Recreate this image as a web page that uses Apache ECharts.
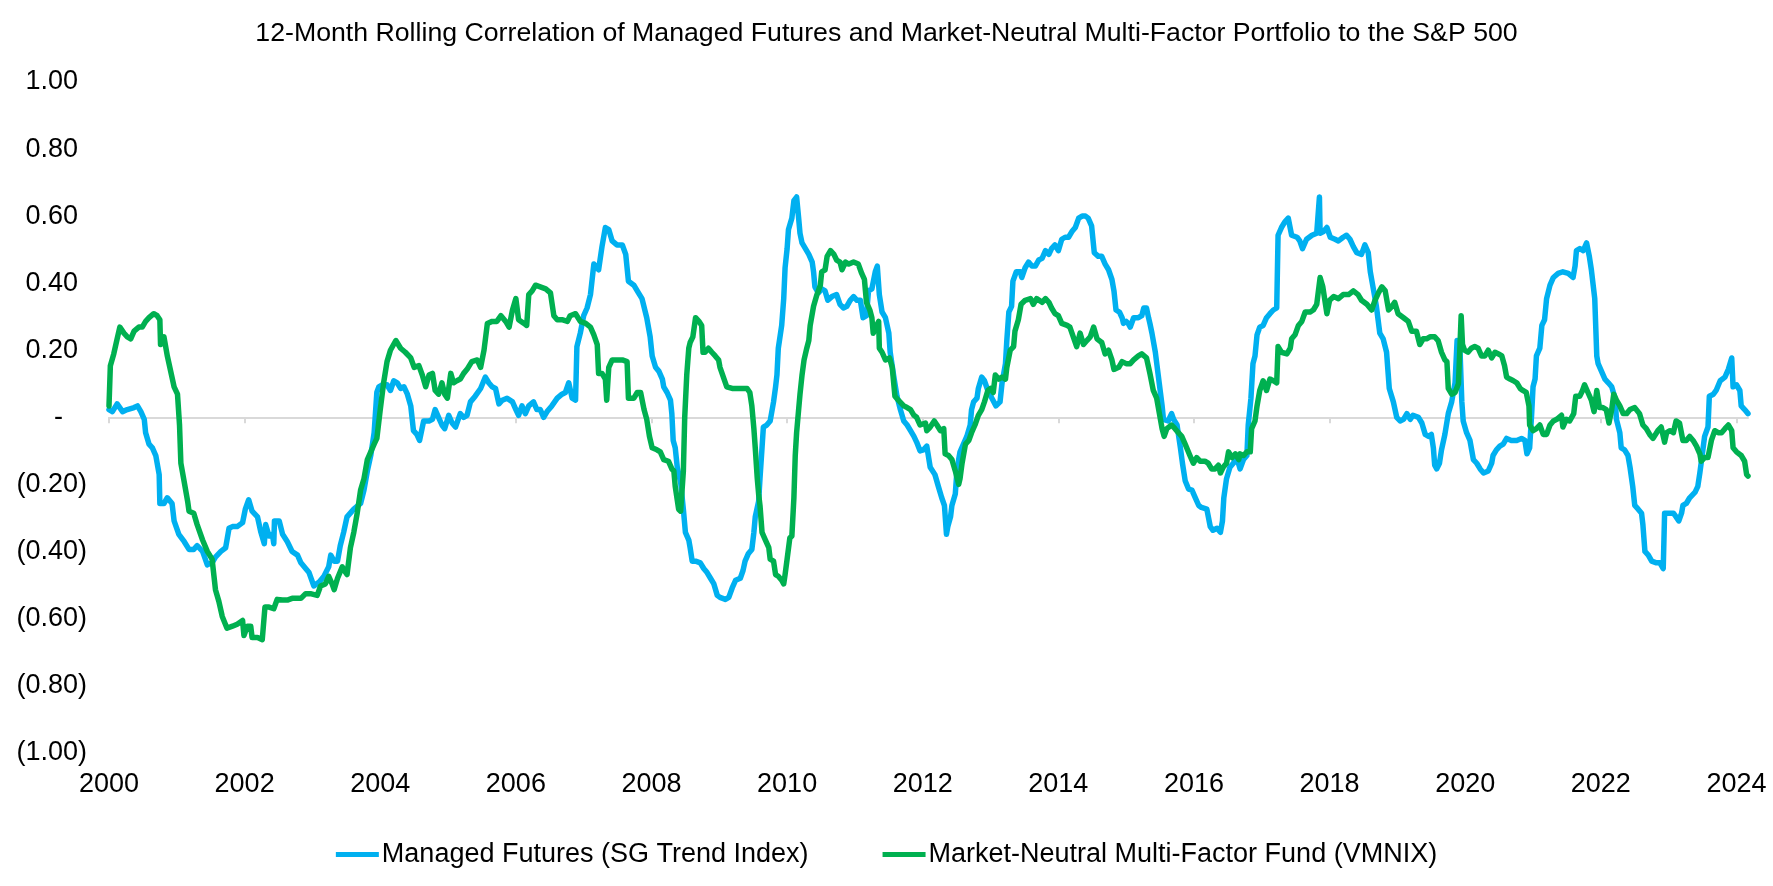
<!DOCTYPE html>
<html>
<head>
<meta charset="utf-8">
<script src="https://cdn.jsdelivr.net/npm/echarts@6/dist/echarts.min.js"></script>
<style>
html,body{margin:0;padding:0;background:#fff;}
#chart{width:1773px;height:886px;}
</style>
</head>
<body>
<div id="chart"></div>
<script>
const chartTitle = '12-Month Rolling Correlation of Managed Futures and Market-Neutral Multi-Factor Portfolio to the S&P 500';
const seriesNames = ['Managed Futures (SG Trend Index)', 'Market-Neutral Multi-Factor Fund (VMNIX)'];
const xTickYears = [2000, 2002, 2004, 2006, 2008, 2010, 2012, 2014, 2016, 2018, 2020, 2022, 2024];
const yTickValues = [-1, -0.8, -0.6, -0.4, -0.2, 0, 0.2, 0.4, 0.6, 0.8, 1];

// [decimal year, correlation]
const managedFutures = [
[2000.00,0.023],[2000.05,0.017],[2000.12,0.040],[2000.20,0.017],[2000.27,0.023],[2000.37,0.029],[2000.42,0.034],[2000.47,0.017],[2000.52,-0.006],[2000.54,-0.046],[2000.59,-0.080],[2000.64,-0.091],[2000.69,-0.114],[2000.74,-0.171],[2000.75,-0.257],[2000.81,-0.257],[2000.86,-0.240],[2000.93,-0.257],[2000.96,-0.309],
[2001.03,-0.349],[2001.11,-0.371],[2001.18,-0.394],[2001.25,-0.394],[2001.30,-0.383],[2001.38,-0.400],[2001.45,-0.440],[2001.52,-0.434],[2001.57,-0.417],[2001.65,-0.400],[2001.72,-0.389],[2001.77,-0.331],[2001.82,-0.326],[2001.89,-0.326],[2001.97,-0.314],
[2002.01,-0.274],[2002.06,-0.246],[2002.11,-0.280],[2002.19,-0.297],[2002.24,-0.343],[2002.29,-0.377],[2002.31,-0.320],[2002.36,-0.354],[2002.41,-0.349],[2002.43,-0.377],[2002.44,-0.309],[2002.51,-0.309],[2002.56,-0.349],[2002.63,-0.371],[2002.70,-0.400],[2002.78,-0.411],[2002.83,-0.434],[2002.90,-0.451],[2002.95,-0.463],
[2003.02,-0.503],[2003.10,-0.491],[2003.17,-0.474],[2003.24,-0.446],[2003.27,-0.411],[2003.32,-0.429],[2003.37,-0.429],[2003.41,-0.383],[2003.46,-0.343],[2003.51,-0.297],[2003.61,-0.274],[2003.71,-0.257],[2003.76,-0.217],[2003.81,-0.160],[2003.86,-0.114],[2003.91,-0.046],[2003.95,0.075],[2003.98,0.091],
[2004.03,0.097],[2004.10,0.097],[2004.15,0.080],[2004.20,0.109],[2004.25,0.103],[2004.30,0.086],[2004.35,0.091],[2004.40,0.069],[2004.45,0.034],[2004.49,-0.040],[2004.54,-0.051],[2004.58,-0.069],[2004.64,-0.011],[2004.72,-0.011],[2004.77,-0.006],[2004.81,0.023],[2004.86,0.000],[2004.91,-0.023],[2004.95,-0.034],
[2005.01,0.006],[2005.06,-0.017],[2005.11,-0.029],[2005.18,0.011],[2005.23,0.000],[2005.28,0.006],[2005.33,0.046],[2005.40,0.063],[2005.48,0.086],[2005.55,0.120],[2005.60,0.103],[2005.65,0.091],[2005.70,0.086],[2005.75,0.040],[2005.80,0.051],[2005.87,0.057],[2005.95,0.046],
[2006.00,0.023],[2006.04,0.006],[2006.09,0.034],[2006.14,0.011],[2006.19,0.034],[2006.26,0.046],[2006.31,0.023],[2006.36,0.023],[2006.41,0.000],[2006.46,0.017],[2006.53,0.034],[2006.61,0.057],[2006.68,0.069],[2006.73,0.074],[2006.78,0.103],[2006.83,0.057],[2006.88,0.051],[2006.90,0.211],[2006.95,0.251],
[2007.00,0.303],[2007.05,0.326],[2007.10,0.366],[2007.15,0.457],[2007.22,0.440],[2007.27,0.509],[2007.32,0.566],[2007.37,0.560],[2007.42,0.526],[2007.49,0.514],[2007.57,0.514],[2007.62,0.486],[2007.66,0.406],[2007.74,0.394],[2007.79,0.377],[2007.86,0.354],[2007.93,0.297],[2007.98,0.240],
[2008.01,0.183],[2008.06,0.149],[2008.11,0.137],[2008.16,0.114],[2008.18,0.091],[2008.23,0.074],[2008.28,0.051],[2008.30,0.011],[2008.32,-0.069],[2008.35,-0.091],[2008.38,-0.149],[2008.43,-0.194],[2008.47,-0.274],[2008.50,-0.343],[2008.55,-0.366],[2008.57,-0.389],[2008.60,-0.429],[2008.65,-0.429],[2008.72,-0.434],[2008.77,-0.451],[2008.82,-0.463],[2008.87,-0.480],[2008.92,-0.497],[2008.97,-0.531],
[2009.01,-0.537],[2009.09,-0.543],[2009.14,-0.537],[2009.19,-0.509],[2009.24,-0.486],[2009.31,-0.480],[2009.35,-0.457],[2009.38,-0.429],[2009.43,-0.406],[2009.48,-0.394],[2009.51,-0.343],[2009.53,-0.297],[2009.58,-0.251],[2009.60,-0.183],[2009.63,-0.091],[2009.65,-0.029],[2009.70,-0.023],[2009.75,-0.011],[2009.80,0.046],[2009.83,0.091],[2009.85,0.126],[2009.87,0.206],[2009.92,0.274],[2009.95,0.354],[2009.97,0.446],
[2010.00,0.503],[2010.02,0.560],[2010.07,0.594],[2010.10,0.646],[2010.14,0.657],[2010.17,0.594],[2010.19,0.549],[2010.22,0.520],[2010.27,0.503],[2010.32,0.486],[2010.37,0.463],[2010.39,0.434],[2010.41,0.389],[2010.46,0.371],[2010.51,0.383],[2010.56,0.377],[2010.60,0.349],[2010.66,0.360],[2010.73,0.366],[2010.78,0.337],[2010.83,0.326],[2010.88,0.331],[2010.93,0.349],[2010.98,0.360],
[2011.03,0.349],[2011.08,0.349],[2011.12,0.297],[2011.17,0.303],[2011.20,0.377],[2011.25,0.383],[2011.30,0.434],[2011.33,0.451],[2011.36,0.366],[2011.40,0.314],[2011.45,0.297],[2011.50,0.251],[2011.52,0.194],[2011.57,0.126],[2011.62,0.063],[2011.67,0.023],[2011.72,-0.011],[2011.77,-0.023],[2011.82,-0.040],[2011.87,-0.057],[2011.91,-0.074],[2011.96,-0.100],
[2012.01,-0.097],[2012.06,-0.086],[2012.11,-0.149],[2012.18,-0.171],[2012.23,-0.206],[2012.28,-0.240],[2012.32,-0.263],[2012.35,-0.349],[2012.37,-0.326],[2012.41,-0.297],[2012.43,-0.263],[2012.48,-0.229],[2012.50,-0.171],[2012.53,-0.126],[2012.55,-0.103],[2012.60,-0.080],[2012.65,-0.057],[2012.70,-0.023],[2012.72,0.023],[2012.75,0.046],[2012.80,0.057],[2012.82,0.086],[2012.87,0.120],[2012.91,0.109],[2012.96,0.080],
[2013.02,0.057],[2013.08,0.034],[2013.14,0.046],[2013.17,0.103],[2013.22,0.160],[2013.24,0.229],[2013.27,0.314],[2013.31,0.331],[2013.33,0.406],[2013.38,0.434],[2013.44,0.434],[2013.46,0.417],[2013.51,0.446],[2013.56,0.463],[2013.61,0.451],[2013.66,0.451],[2013.71,0.469],[2013.76,0.474],[2013.81,0.497],[2013.86,0.486],[2013.90,0.503],[2013.95,0.514],
[2014.00,0.497],[2014.05,0.531],[2014.10,0.537],[2014.15,0.537],[2014.20,0.554],[2014.25,0.566],[2014.30,0.594],[2014.35,0.600],[2014.40,0.600],[2014.44,0.594],[2014.49,0.571],[2014.53,0.491],[2014.59,0.480],[2014.64,0.480],[2014.69,0.457],[2014.74,0.440],[2014.79,0.411],[2014.82,0.377],[2014.85,0.320],[2014.90,0.314],[2014.94,0.297],[2014.96,0.280],
[2015.00,0.286],[2015.03,0.280],[2015.06,0.269],[2015.11,0.297],[2015.18,0.297],[2015.23,0.303],[2015.26,0.326],[2015.30,0.326],[2015.33,0.297],[2015.35,0.280],[2015.38,0.251],[2015.43,0.194],[2015.48,0.114],[2015.53,0.034],[2015.55,-0.006],[2015.62,-0.011],[2015.67,0.011],[2015.70,-0.006],[2015.75,-0.023],[2015.80,-0.091],[2015.83,-0.137],[2015.87,-0.189],[2015.92,-0.214],[2015.97,-0.217],
[2016.02,-0.240],[2016.07,-0.263],[2016.11,-0.269],[2016.19,-0.274],[2016.24,-0.326],[2016.28,-0.337],[2016.34,-0.331],[2016.39,-0.343],[2016.42,-0.309],[2016.44,-0.240],[2016.48,-0.183],[2016.53,-0.149],[2016.58,-0.137],[2016.63,-0.120],[2016.68,-0.154],[2016.73,-0.126],[2016.78,-0.114],[2016.80,-0.023],[2016.84,0.057],[2016.87,0.160],[2016.90,0.183],[2016.93,0.246],[2016.97,0.269],
[2017.02,0.274],[2017.07,0.297],[2017.12,0.309],[2017.17,0.320],[2017.22,0.326],[2017.24,0.543],[2017.29,0.566],[2017.34,0.583],[2017.39,0.594],[2017.44,0.543],[2017.52,0.537],[2017.56,0.526],[2017.60,0.503],[2017.66,0.531],[2017.74,0.543],[2017.81,0.549],[2017.85,0.657],[2017.86,0.549],[2017.91,0.554],[2017.96,0.566],
[2018.01,0.537],[2018.08,0.531],[2018.13,0.526],[2018.20,0.537],[2018.25,0.543],[2018.30,0.531],[2018.35,0.509],[2018.40,0.491],[2018.47,0.486],[2018.52,0.514],[2018.57,0.491],[2018.60,0.434],[2018.65,0.377],[2018.69,0.331],[2018.74,0.251],[2018.79,0.234],[2018.84,0.194],[2018.88,0.086],[2018.94,0.046],[2018.99,0.000],
[2019.04,-0.011],[2019.09,-0.006],[2019.14,0.011],[2019.19,-0.006],[2019.23,0.006],[2019.31,0.000],[2019.36,-0.017],[2019.41,-0.051],[2019.46,-0.057],[2019.50,-0.051],[2019.53,-0.091],[2019.55,-0.143],[2019.58,-0.154],[2019.62,-0.137],[2019.65,-0.097],[2019.70,-0.051],[2019.75,0.011],[2019.80,0.046],[2019.85,0.103],[2019.88,0.229],[2019.92,0.217],[2019.95,0.046],[2019.97,-0.011],
[2020.02,-0.046],[2020.07,-0.069],[2020.12,-0.126],[2020.17,-0.137],[2020.22,-0.154],[2020.27,-0.166],[2020.34,-0.160],[2020.39,-0.137],[2020.41,-0.114],[2020.46,-0.097],[2020.51,-0.086],[2020.56,-0.080],[2020.61,-0.063],[2020.68,-0.069],[2020.76,-0.069],[2020.83,-0.063],[2020.88,-0.069],[2020.91,-0.109],[2020.95,-0.091],[2020.98,0.011],
[2021.00,0.091],[2021.03,0.114],[2021.05,0.183],[2021.10,0.206],[2021.13,0.274],[2021.17,0.291],[2021.20,0.354],[2021.25,0.394],[2021.30,0.417],[2021.37,0.429],[2021.44,0.434],[2021.52,0.429],[2021.59,0.417],[2021.62,0.451],[2021.64,0.497],[2021.69,0.503],[2021.74,0.497],[2021.79,0.520],[2021.83,0.480],[2021.86,0.440],[2021.91,0.354],[2021.94,0.183],[2021.96,0.160],
[2022.01,0.137],[2022.06,0.114],[2022.11,0.103],[2022.16,0.091],[2022.21,0.057],[2022.23,-0.006],[2022.28,-0.046],[2022.30,-0.091],[2022.35,-0.097],[2022.40,-0.114],[2022.43,-0.149],[2022.47,-0.206],[2022.50,-0.263],[2022.55,-0.274],[2022.60,-0.286],[2022.62,-0.320],[2022.65,-0.400],[2022.70,-0.411],[2022.75,-0.429],[2022.82,-0.434],[2022.87,-0.434],[2022.92,-0.451],[2022.94,-0.286],[2022.99,-0.286],
[2023.07,-0.286],[2023.11,-0.297],[2023.15,-0.309],[2023.19,-0.286],[2023.21,-0.263],[2023.26,-0.257],[2023.31,-0.240],[2023.39,-0.223],[2023.43,-0.206],[2023.46,-0.166],[2023.49,-0.120],[2023.53,-0.057],[2023.58,-0.029],[2023.60,0.063],[2023.66,0.069],[2023.70,0.080],[2023.76,0.109],[2023.83,0.120],[2023.88,0.143],[2023.93,0.177],[2023.95,0.091],
[2024.00,0.097],[2024.05,0.080],[2024.07,0.034],[2024.12,0.023],[2024.17,0.011]
];

const marketNeutral = [
[2000.00,0.034],[2000.02,0.154],[2000.07,0.189],[2000.12,0.234],[2000.16,0.269],[2000.22,0.251],[2000.27,0.240],[2000.32,0.234],[2000.37,0.257],[2000.44,0.269],[2000.49,0.269],[2000.54,0.286],[2000.59,0.297],[2000.66,0.309],[2000.71,0.303],[2000.75,0.291],[2000.76,0.217],[2000.81,0.240],[2000.86,0.183],[2000.91,0.137],[2000.96,0.091],
[2001.01,0.069],[2001.04,-0.023],[2001.06,-0.137],[2001.11,-0.194],[2001.16,-0.251],[2001.18,-0.280],[2001.25,-0.286],[2001.30,-0.320],[2001.38,-0.366],[2001.45,-0.400],[2001.52,-0.423],[2001.57,-0.514],[2001.62,-0.549],[2001.67,-0.594],[2001.74,-0.629],[2001.82,-0.623],[2001.89,-0.617],[2001.97,-0.606],[2001.99,-0.651],
[2002.04,-0.623],[2002.09,-0.623],[2002.11,-0.657],[2002.19,-0.657],[2002.26,-0.663],[2002.30,-0.566],[2002.36,-0.566],[2002.43,-0.571],[2002.48,-0.543],[2002.56,-0.545],[2002.63,-0.545],[2002.70,-0.540],[2002.83,-0.540],[2002.90,-0.526],[2002.97,-0.526],
[2003.07,-0.531],[2003.12,-0.503],[2003.19,-0.497],[2003.24,-0.474],[2003.29,-0.497],[2003.32,-0.514],[2003.37,-0.480],[2003.44,-0.446],[2003.49,-0.463],[2003.51,-0.469],[2003.56,-0.389],[2003.61,-0.343],[2003.66,-0.286],[2003.71,-0.217],[2003.76,-0.183],[2003.81,-0.126],[2003.86,-0.103],[2003.91,-0.080],[2003.95,-0.063],
[2004.00,0.023],[2004.05,0.103],[2004.10,0.166],[2004.15,0.200],[2004.23,0.229],[2004.30,0.206],[2004.37,0.194],[2004.45,0.177],[2004.50,0.149],[2004.57,0.154],[2004.62,0.126],[2004.67,0.091],[2004.72,0.126],[2004.77,0.131],[2004.81,0.080],[2004.86,0.069],[2004.91,0.103],[2004.95,0.069],[2004.99,0.057],
[2005.04,0.131],[2005.08,0.103],[2005.13,0.109],[2005.18,0.114],[2005.23,0.131],[2005.28,0.143],[2005.35,0.166],[2005.43,0.171],[2005.48,0.149],[2005.53,0.200],[2005.58,0.280],[2005.65,0.286],[2005.72,0.286],[2005.78,0.303],[2005.85,0.286],[2005.90,0.269],[2005.95,0.320],
[2006.00,0.354],[2006.04,0.291],[2006.12,0.280],[2006.16,0.274],[2006.19,0.366],[2006.24,0.377],[2006.29,0.394],[2006.36,0.389],[2006.44,0.383],[2006.51,0.371],[2006.56,0.303],[2006.61,0.291],[2006.68,0.291],[2006.76,0.286],[2006.80,0.303],[2006.88,0.309],[2006.95,0.286],
[2007.03,0.280],[2007.10,0.269],[2007.15,0.246],[2007.20,0.217],[2007.22,0.131],[2007.27,0.131],[2007.32,0.114],[2007.34,0.051],[2007.37,0.149],[2007.42,0.171],[2007.49,0.171],[2007.57,0.171],[2007.64,0.166],[2007.66,0.057],[2007.74,0.057],[2007.79,0.074],[2007.84,0.074],[2007.89,0.023],[2007.93,-0.006],[2007.97,-0.057],
[2008.01,-0.091],[2008.08,-0.097],[2008.13,-0.103],[2008.18,-0.126],[2008.25,-0.131],[2008.30,-0.154],[2008.33,-0.160],[2008.35,-0.206],[2008.40,-0.274],[2008.43,-0.280],[2008.47,-0.160],[2008.49,0.000],[2008.52,0.126],[2008.55,0.206],[2008.57,0.223],[2008.61,0.240],[2008.65,0.297],[2008.70,0.286],[2008.74,0.274],[2008.76,0.194],[2008.79,0.194],[2008.84,0.206],[2008.89,0.194],[2008.94,0.183],[2008.99,0.171],
[2009.01,0.149],[2009.06,0.120],[2009.11,0.091],[2009.19,0.086],[2009.26,0.086],[2009.33,0.086],[2009.41,0.086],[2009.45,0.074],[2009.48,0.034],[2009.51,-0.034],[2009.53,-0.091],[2009.56,-0.183],[2009.58,-0.229],[2009.60,-0.263],[2009.63,-0.343],[2009.68,-0.366],[2009.73,-0.389],[2009.75,-0.423],[2009.80,-0.429],[2009.83,-0.469],[2009.87,-0.474],[2009.92,-0.486],[2009.95,-0.497],[2009.97,-0.469],
[2010.00,-0.423],[2010.04,-0.360],[2010.07,-0.354],[2010.10,-0.240],[2010.12,-0.114],[2010.14,-0.046],[2010.17,0.023],[2010.19,0.069],[2010.22,0.126],[2010.25,0.171],[2010.29,0.206],[2010.32,0.229],[2010.34,0.274],[2010.39,0.331],[2010.44,0.366],[2010.49,0.394],[2010.51,0.434],[2010.56,0.440],[2010.59,0.480],[2010.64,0.497],[2010.69,0.486],[2010.73,0.469],[2010.78,0.463],[2010.81,0.440],[2010.86,0.463],[2010.91,0.457],[2010.98,0.463],
[2011.05,0.457],[2011.10,0.429],[2011.14,0.411],[2011.17,0.343],[2011.22,0.320],[2011.25,0.297],[2011.27,0.251],[2011.32,0.274],[2011.35,0.286],[2011.36,0.206],[2011.40,0.194],[2011.45,0.171],[2011.47,0.166],[2011.51,0.177],[2011.55,0.149],[2011.57,0.149],[2011.59,0.063],[2011.64,0.051],[2011.72,0.034],[2011.77,0.029],[2011.82,0.023],[2011.87,0.006],[2011.91,0.000],[2011.96,-0.023],
[2012.04,-0.017],[2012.06,-0.040],[2012.11,-0.029],[2012.17,-0.011],[2012.21,-0.023],[2012.26,-0.040],[2012.31,-0.034],[2012.33,-0.109],[2012.38,-0.114],[2012.43,-0.126],[2012.48,-0.160],[2012.53,-0.200],[2012.55,-0.183],[2012.58,-0.137],[2012.63,-0.080],[2012.68,-0.069],[2012.72,-0.046],[2012.77,-0.023],[2012.82,0.006],[2012.87,0.023],[2012.91,0.046],[2012.96,0.080],
[2013.00,0.086],[2013.04,0.074],[2013.07,0.126],[2013.12,0.114],[2013.17,0.120],[2013.22,0.114],[2013.24,0.149],[2013.29,0.200],[2013.34,0.211],[2013.36,0.257],[2013.41,0.291],[2013.45,0.337],[2013.51,0.349],[2013.59,0.354],[2013.63,0.337],[2013.68,0.354],[2013.76,0.343],[2013.81,0.354],[2013.86,0.343],[2013.90,0.326],[2013.95,0.309],
[2014.00,0.303],[2014.05,0.280],[2014.13,0.274],[2014.17,0.269],[2014.22,0.240],[2014.27,0.211],[2014.32,0.251],[2014.37,0.217],[2014.42,0.229],[2014.47,0.240],[2014.52,0.269],[2014.57,0.234],[2014.64,0.223],[2014.69,0.189],[2014.74,0.200],[2014.79,0.171],[2014.82,0.143],[2014.89,0.149],[2014.94,0.166],
[2015.00,0.160],[2015.06,0.160],[2015.11,0.171],[2015.18,0.183],[2015.23,0.189],[2015.30,0.177],[2015.35,0.131],[2015.40,0.080],[2015.45,0.057],[2015.49,0.011],[2015.53,-0.034],[2015.56,-0.057],[2015.60,-0.034],[2015.67,-0.023],[2015.72,-0.034],[2015.77,-0.046],[2015.82,-0.057],[2015.87,-0.080],[2015.94,-0.114],[2015.99,-0.137],
[2016.04,-0.120],[2016.09,-0.131],[2016.16,-0.131],[2016.21,-0.137],[2016.26,-0.154],[2016.31,-0.154],[2016.36,-0.143],[2016.39,-0.166],[2016.43,-0.149],[2016.48,-0.137],[2016.51,-0.103],[2016.56,-0.120],[2016.61,-0.109],[2016.66,-0.126],[2016.68,-0.109],[2016.73,-0.114],[2016.78,-0.103],[2016.83,-0.103],[2016.85,-0.034],[2016.90,-0.011],[2016.93,0.034],[2016.97,0.080],
[2017.02,0.109],[2017.07,0.080],[2017.12,0.114],[2017.17,0.109],[2017.22,0.103],[2017.24,0.211],[2017.29,0.194],[2017.37,0.189],[2017.42,0.206],[2017.44,0.234],[2017.49,0.246],[2017.54,0.274],[2017.59,0.286],[2017.64,0.314],[2017.71,0.314],[2017.76,0.320],[2017.81,0.337],[2017.86,0.417],[2017.90,0.389],[2017.96,0.309],
[2018.00,0.349],[2018.06,0.360],[2018.13,0.354],[2018.20,0.366],[2018.28,0.366],[2018.35,0.377],[2018.42,0.366],[2018.47,0.349],[2018.55,0.337],[2018.62,0.320],[2018.67,0.349],[2018.72,0.371],[2018.77,0.389],[2018.82,0.377],[2018.87,0.320],[2018.92,0.331],[2018.96,0.343],
[2019.01,0.309],[2019.09,0.297],[2019.16,0.286],[2019.21,0.257],[2019.28,0.257],[2019.33,0.217],[2019.38,0.234],[2019.43,0.234],[2019.48,0.240],[2019.55,0.240],[2019.60,0.229],[2019.65,0.194],[2019.70,0.171],[2019.73,0.166],[2019.75,0.086],[2019.80,0.069],[2019.85,0.074],[2019.90,0.100],[2019.94,0.303],[2019.96,0.217],[2019.99,0.200],
[2020.04,0.194],[2020.09,0.206],[2020.14,0.211],[2020.19,0.206],[2020.24,0.183],[2020.29,0.183],[2020.34,0.200],[2020.39,0.177],[2020.44,0.194],[2020.49,0.189],[2020.54,0.183],[2020.58,0.154],[2020.61,0.120],[2020.66,0.114],[2020.71,0.109],[2020.76,0.103],[2020.81,0.086],[2020.85,0.080],[2020.90,0.074],[2020.94,0.034],[2020.95,-0.023],
[2021.00,-0.040],[2021.05,-0.034],[2021.10,-0.023],[2021.15,-0.051],[2021.20,-0.051],[2021.25,-0.023],[2021.30,-0.011],[2021.35,-0.006],[2021.42,0.006],[2021.44,-0.029],[2021.49,-0.006],[2021.54,-0.011],[2021.60,0.011],[2021.63,0.063],[2021.69,0.063],[2021.73,0.080],[2021.76,0.097],[2021.81,0.074],[2021.86,0.051],[2021.90,0.017],[2021.94,0.080],[2021.98,0.029],
[2022.03,0.029],[2022.08,0.023],[2022.12,-0.017],[2022.16,0.023],[2022.19,0.069],[2022.23,0.051],[2022.28,0.034],[2022.33,0.011],[2022.38,0.011],[2022.43,0.023],[2022.50,0.029],[2022.57,0.011],[2022.62,-0.023],[2022.67,-0.034],[2022.72,-0.051],[2022.77,-0.063],[2022.84,-0.040],[2022.89,-0.029],[2022.94,-0.074],[2022.97,-0.046],
[2023.02,-0.040],[2023.07,-0.046],[2023.11,-0.011],[2023.16,-0.017],[2023.21,-0.069],[2023.26,-0.069],[2023.31,-0.057],[2023.36,-0.069],[2023.41,-0.086],[2023.46,-0.109],[2023.48,-0.131],[2023.53,-0.120],[2023.58,-0.120],[2023.63,-0.069],[2023.68,-0.040],[2023.73,-0.046],[2023.78,-0.046],[2023.83,-0.034],[2023.88,-0.023],[2023.93,-0.040],[2023.95,-0.091],
[2024.00,-0.103],[2024.07,-0.114],[2024.12,-0.131],[2024.15,-0.171],[2024.17,-0.175]
];

const colors = ['#00B0F0', '#00B050'];
const FONT = 'Liberation Sans, Arial, sans-serif';

function yLabel(v) {
  if (Math.abs(v) < 1e-9) return '-{pad|0)}';
  if (v < 0) return '(' + (-v).toFixed(2) + ')';
  return v.toFixed(2) + '{pad|)}';
}

const chart = echarts.init(document.getElementById('chart'), null, {renderer: 'canvas'});
chart.setOption({
  animation: false,
  backgroundColor: '#ffffff',
  color: colors,
  title: {
    text: chartTitle,
    left: 'center',
    top: 15,
    textStyle: {fontFamily: FONT, fontSize: 26.7, fontWeight: 'normal', color: '#000'}
  },
  legend: {
    data: seriesNames,
    bottom: 13,
    left: 'center',
    icon: 'rect',
    itemWidth: 43,
    itemHeight: 5,
    itemGap: 74,
    textStyle: {fontFamily: FONT, fontSize: 27, color: '#000', padding: [0, 0, 0, -2]}
  },
  grid: {left: 109, right: 25, top: 82, bottom: 133.4, containLabel: false},
  xAxis: [
    {
      type: 'value', min: 2000, max: 2024.17,
      axisLine: {show: false, onZero: false},
      axisTick: {show: false},
      splitLine: {show: false},
      axisLabel: {
        customValues: xTickYears,
        formatter: v => String(Math.round(v)),
        fontFamily: FONT, fontSize: 27, color: '#000', margin: 18
      }
    },
    {
      type: 'value', min: 2000, max: 2024.17, position: 'bottom',
      axisLine: {show: true, onZero: true, lineStyle: {color: '#D9D9D9', width: 2}},
      axisTick: {show: true, customValues: xTickYears, length: 6, lineStyle: {color: '#D9D9D9', width: 2}},
      axisLabel: {show: false},
      splitLine: {show: false}
    }
  ],
  yAxis: {
    type: 'value', min: -1, max: 1, interval: 0.2,
    axisLine: {show: false}, axisTick: {show: false}, splitLine: {show: false},
    axisLabel: {
      formatter: yLabel,
      fontFamily: FONT, fontSize: 27, color: '#000', margin: 22, align: 'right',
      rich: {pad: {fontFamily: FONT, fontSize: 27, color: 'rgba(0,0,0,0)'}}
    }
  },
  series: [
    {
      name: seriesNames[0], type: 'line', data: managedFutures, xAxisIndex: 0,
      showSymbol: false, symbol: 'none', smooth: false, z: 2,
      lineStyle: {width: 5.5, color: colors[0], cap: 'round', join: 'round'}
    },
    {
      name: seriesNames[1], type: 'line', data: marketNeutral, xAxisIndex: 0,
      showSymbol: false, symbol: 'none', smooth: false, z: 3,
      lineStyle: {width: 5.5, color: colors[1], cap: 'round', join: 'round'}
    }
  ]
});
</script>
</body>
</html>
